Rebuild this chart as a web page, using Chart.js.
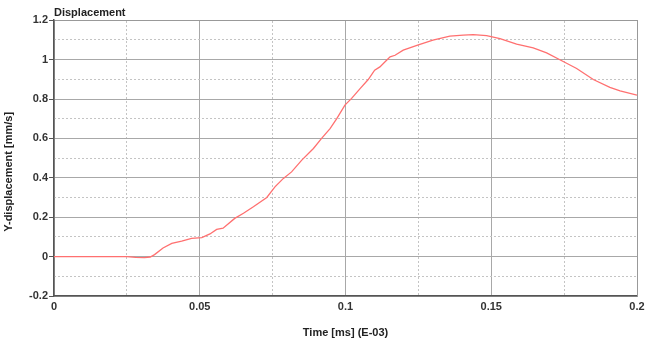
<!DOCTYPE html>
<html>
<head>
<meta charset="utf-8">
<script src="https://cdn.jsdelivr.net/npm/chart.js@4.4.0/dist/chart.umd.min.js"></script>
<style>
  html, body { margin: 0; padding: 0; background: #fff; }
  #wrap { width: 650px; height: 340px; }
</style>
</head>
<body>
<div id="wrap"><canvas id="chart" width="650" height="340"></canvas></div>
<script>
// valores
const tiempos = [0, 0.01, 0.02, 0.025, 0.028, 0.031, 0.033, 0.0345, 0.0374, 0.0404, 0.0438, 0.0472,
  0.0507, 0.0535, 0.0558, 0.058, 0.062, 0.065, 0.0684, 0.073, 0.0758, 0.0787, 0.0815, 0.085,
  0.089, 0.0918, 0.0947, 0.097, 0.0998, 0.1021, 0.105, 0.1078, 0.110, 0.1118, 0.1141, 0.1153,
  0.117, 0.1198, 0.125, 0.130, 0.1358, 0.1404, 0.1438, 0.1484, 0.153, 0.1587, 0.1644, 0.169,
  0.1742, 0.1793, 0.185, 0.1907, 0.1942, 0.2];
const desplazamiento = [0, 0, 0, 0, -0.004, -0.005, -0.002, 0.01, 0.044, 0.067, 0.079, 0.093,
  0.096, 0.115, 0.138, 0.144, 0.194, 0.22, 0.253, 0.30, 0.354, 0.397, 0.43, 0.49,
  0.549, 0.60, 0.65, 0.70, 0.769, 0.803, 0.853, 0.899, 0.946, 0.963, 0.997, 1.014,
  1.022, 1.048, 1.075, 1.099, 1.119, 1.124, 1.127, 1.122, 1.107, 1.078, 1.06, 1.034,
  0.994, 0.955, 0.899, 0.859, 0.841, 0.82];
const xTicks = [0, 0.05, 0.1, 0.15, 0.2];
const yTicks = [-0.2, 0, 0.2, 0.4, 0.6, 0.8, 1, 1.2];

const fuente = { family: "'Liberation Sans', Arial, sans-serif", size: 11, weight: 'bold' };

// es linea principal?
const esMayor = (v, paso) => Math.abs(v / paso - Math.round(v / paso)) < 1e-6;

const ctx = document.getElementById('chart').getContext('2d');
new Chart(ctx, {
  type: 'line',
  data: {
    datasets: [{
      label: 'Y-displacement',
      data: tiempos.map((t, i) => ({ x: t, y: desplazamiento[i] })),
      borderColor: '#ff7070',
      borderWidth: 1.3,
      pointRadius: 0,
      tension: 0,
      fill: false,
    }],
  },
  options: {
    responsive: false,
    animation: false,
    layout: { padding: { left: 2, right: 13, top: 0, bottom: 0 } },
    plugins: {
      legend: { display: false },
      tooltip: { enabled: false },
      title: {
        display: true,
        text: 'Displacement',
        align: 'start',
        fullSize: false,
        color: '#222',
        font: fuente,
        padding: { top: 6, bottom: 1 },
      },
    },
    scales: {
      x: {
        type: 'linear',
        position: 'bottom',
        min: 0,
        max: 0.2,
        afterBuildTicks: s => { s.ticks = xTicks.map(v => ({ value: v })); },
        afterFit: s => { s.height = 44; },
        ticks: {
          color: '#333',
          font: fuente,
          padding: 4,
          maxRotation: 0,
          callback: v => String(v),
        },
        grid: { color: '#a8a8a8', lineWidth: 1, drawTicks: false },
        border: { color: '#555', width: 1.5 },
        title: {
          display: true,
          text: 'Time [ms] (E-03)',
          color: '#222',
          font: fuente,
          padding: { top: 3, bottom: 0 },
        },
      },
      xMinor: {
        type: 'linear',
        position: 'top',
        min: 0,
        max: 0.2,
        ticks: { display: false, stepSize: 0.025 },
        afterFit: s => { s.height = 0; },
        grid: {
          drawTicks: false,
          color: c => (c.tick && esMayor(c.tick.value, 0.05)) ? 'rgba(0,0,0,0)' : '#c4c4c4',
        },
        border: { color: '#999', width: 1, dash: [2, 2] },
      },
      y: {
        type: 'linear',
        position: 'left',
        min: -0.2,
        max: 1.2,
        afterBuildTicks: s => { s.ticks = yTicks.map(v => ({ value: v })); },
        afterFit: s => { s.width = 52; },
        ticks: {
          color: '#333',
          font: fuente,
          padding: 1,
          callback: v => String(Math.round(v * 10) / 10),
        },
        grid: { color: '#a8a8a8', lineWidth: 1, tickLength: 5, tickColor: '#555' },
        border: { color: '#555', width: 1.5 },
        title: {
          display: true,
          // espacios al final para bajar el texto como en el original
          text: 'Y-displacement [mm/s]' + ' '.repeat(9),
          color: '#222',
          font: fuente,
          padding: { top: 0, bottom: 4 },
        },
      },
      yMinor: {
        type: 'linear',
        position: 'right',
        min: -0.2,
        max: 1.2,
        ticks: { display: false, stepSize: 0.1 },
        afterFit: s => { s.width = 0; },
        grid: {
          drawTicks: false,
          color: c => (c.tick && esMayor(c.tick.value, 0.2)) ? 'rgba(0,0,0,0)' : '#c4c4c4',
        },
        border: { color: '#999', width: 1, dash: [2, 2] },
      },
    },
  },
});
</script>
</body>
</html>
